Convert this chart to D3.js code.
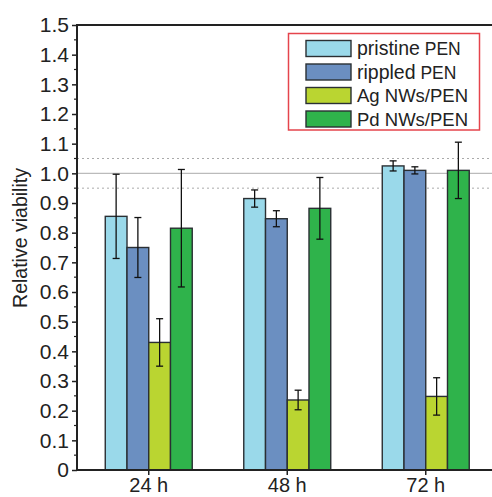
<!DOCTYPE html>
<html><head><meta charset="utf-8">
<script src="https://cdn.jsdelivr.net/npm/d3@7"></script>
<style>body{margin:0;background:#fff;}svg{display:block;font-family:"Liberation Sans",Arial,sans-serif;}</style>
</head><body><svg id="c" width="492" height="497"></svg>
<script>
const groups = ["24 h", "48 h", "72 h"];
const series = ["pristine PEN", "rippled PEN", "Ag NWs/PEN", "Pd NWs/PEN"];
const colors = ["#9ad9ea", "#6b8fc1", "#bad531", "#2fb34b"];
const pristine = [0.855, 0.915, 1.025];
const pristineErr = [0.142, 0.029, 0.017];
const rippled = [0.750, 0.847, 1.010];
const rippledErr = [0.101, 0.027, 0.012];
const ag = [0.430, 0.236, 0.248];
const agErr = [0.080, 0.033, 0.063];
const pd = [0.815, 0.882, 1.010];
const pdErr = [0.198, 0.104, 0.095];
const yTicks = [0, 0.1, 0.2, 0.3, 0.4, 0.5, 0.6, 0.7, 0.8, 0.9, 1.0, 1.1, 1.2, 1.3, 1.4, 1.5];
const refLine = 1.0, refDotted = [0.95, 1.05];

const vals = [pristine, rippled, ag, pd];
const errs = [pristineErr, rippledErr, agErr, pdErr];

const svg = d3.select("#c");
const mLeft = 77, mTop = 25, mBottom = 470;
const y = d3.scaleLinear().domain([0, 1.5]).range([mBottom, mTop]);
const x0 = d3.scaleBand().domain(groups).range([79.5, 495]).paddingInner(0.372).paddingOuter(0.186);
const x1 = d3.scaleBand().domain(series).range([0, x0.bandwidth()]);

// reference lines
svg.append("line").attr("x1", mLeft).attr("x2", 492).attr("y1", y(refLine)).attr("y2", y(refLine))
  .attr("stroke", "#bbb").attr("stroke-width", 1.3);
refDotted.forEach(v => svg.append("line").attr("x1", mLeft).attr("x2", 492).attr("y1", y(v)).attr("y2", y(v))
  .attr("stroke", "#aaa").attr("stroke-width", 1).attr("stroke-dasharray", "2,3"));

// bars
series.forEach((s, si) => {
  groups.forEach((g, gi) => {
    const v = vals[si][gi], e = errs[si][gi];
    const bx = x0(g) + x1(s), bw = x1.bandwidth();
    svg.append("rect").attr("x", bx).attr("y", y(v)).attr("width", bw).attr("height", y(0) - y(v))
      .attr("fill", colors[si]).attr("stroke", "#2a2f33").attr("stroke-width", 1.4);
    const cx = bx + bw / 2;
    const eg = svg.append("g").attr("stroke", "#111").attr("stroke-width", 1.3);
    eg.append("line").attr("x1", cx).attr("x2", cx).attr("y1", y(v + e)).attr("y2", y(v - e));
    eg.append("line").attr("x1", cx - 3.5).attr("x2", cx + 3.5).attr("y1", y(v + e)).attr("y2", y(v + e));
    eg.append("line").attr("x1", cx - 3.5).attr("x2", cx + 3.5).attr("y1", y(v - e)).attr("y2", y(v - e));
  });
});

// y axis
const yAxis = d3.axisLeft(y).tickValues(yTicks).tickSize(5).tickPadding(3)
  .tickFormat(d => d === 0 ? "0" : d3.format(".1f")(d));
const ya = svg.append("g").attr("transform", `translate(${mLeft},0)`).call(yAxis);
ya.select(".domain").remove();
ya.selectAll(".tick line").attr("stroke", "#222").attr("stroke-width", 1.5);
ya.selectAll(".tick text").attr("font-size", 21).attr("fill", "#222");
// minor ticks
const minor = d3.range(0.05, 1.5, 0.1);
svg.append("g").selectAll("line").data(minor).join("line")
  .attr("x1", mLeft - 3).attr("x2", mLeft).attr("y1", d => y(d)).attr("y2", d => y(d))
  .attr("stroke", "#222").attr("stroke-width", 1.2);

// x axis
const xAxis = d3.axisBottom(x0).tickSize(5).tickPadding(2.5);
const xa = svg.append("g").attr("transform", `translate(0,${mBottom})`).call(xAxis);
xa.select(".domain").remove();
xa.selectAll(".tick line").attr("stroke", "#222").attr("stroke-width", 1.5);
xa.selectAll(".tick text").attr("font-size", 20).attr("fill", "#222");

// frame lines
svg.append("line").attr("x1", mLeft).attr("x2", 492).attr("y1", mBottom).attr("y2", mBottom).attr("stroke", "#222").attr("stroke-width", 2);
svg.append("line").attr("x1", mLeft).attr("x2", 492).attr("y1", mTop).attr("y2", mTop).attr("stroke", "#222").attr("stroke-width", 2);
svg.append("line").attr("x1", mLeft).attr("x2", mLeft).attr("y1", mTop - 1).attr("y2", mBottom + 1).attr("stroke", "#222").attr("stroke-width", 2);

// y label
svg.append("text").attr("transform", `translate(27,238) rotate(-90)`).attr("text-anchor", "middle")
  .attr("font-size", 19.5).attr("fill", "#222").text("Relative viability");

// legend
const lg = svg.append("g");
lg.append("rect").attr("x", 288.5).attr("y", 33.5).attr("width", 191).attr("height", 96.5)
  .attr("fill", "#fff").attr("stroke", "#e5444c").attr("stroke-width", 1.5);
const parts = [["pristine", " PEN"], ["rippled", " PEN"], ["Ag NWs/PEN", ""], ["Pd NWs/PEN", ""]];
series.forEach((s, i) => {
  const cy = 48.5 + i * 23.5;
  lg.append("rect").attr("x", 306).attr("y", cy - 8).attr("width", 45).attr("height", 16)
    .attr("fill", colors[i]).attr("stroke", "#2a2f33").attr("stroke-width", 1.4);
  const t = lg.append("text").attr("x", 357).attr("y", cy + 6.5).attr("fill", "#222");
  if (i < 2) {
    t.append("tspan").attr("font-size", 19.5).text(parts[i][0]);
    t.append("tspan").attr("font-size", 17.5).text(parts[i][1]);
  } else {
    t.append("tspan").attr("font-size", 18.5).text(parts[i][0]);
  }
});
</script></body></html>
